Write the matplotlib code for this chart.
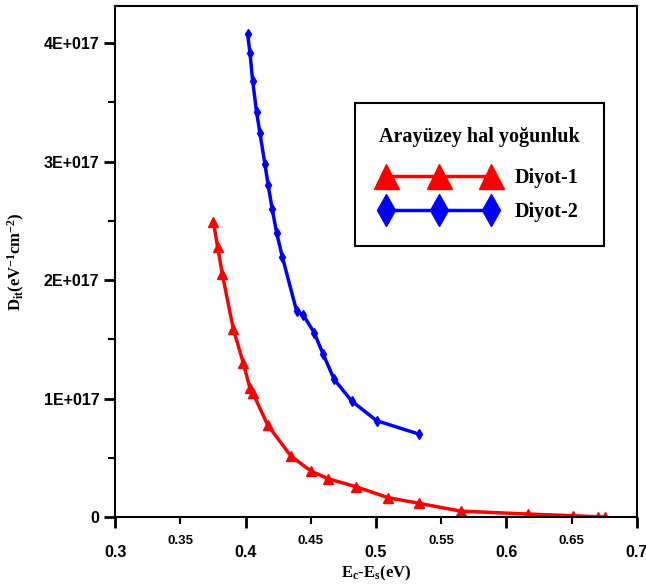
import matplotlib
matplotlib.use("Agg")
import matplotlib.pyplot as plt
from matplotlib.ticker import MultipleLocator, FixedLocator, FixedFormatter

# Diyot-1 (red triangles)
x1 = [0.3752, 0.3785, 0.3821, 0.3905, 0.3982, 0.4033, 0.4054, 0.4169, 0.4347,
      0.4501, 0.4633, 0.4846, 0.5094, 0.5329, 0.5649, 0.6167, 0.6512, 0.6704, 0.6756]
y1 = [2.49, 2.28, 2.05, 1.59, 1.30, 1.086, 1.05, 0.776, 0.515,
      0.388, 0.323, 0.256, 0.163, 0.116, 0.05, 0.025, 0.011, 0.002, 0.0]

# Diyot-2 (blue diamonds)
x2 = [0.4015, 0.4033, 0.4054, 0.4084, 0.4110, 0.4148, 0.4173, 0.4204, 0.4238,
      0.4281, 0.4391, 0.4442, 0.4526, 0.4595, 0.4679, 0.4813, 0.5005, 0.5329]
y2 = [4.076, 3.918, 3.679, 3.415, 3.238, 2.976, 2.799, 2.597, 2.397,
      2.197, 1.738, 1.705, 1.555, 1.373, 1.162, 0.979, 0.813, 0.700]

scale = 1e17
yticks = [0, 1e17, 2e17, 3e17, 4e17]
ylabels = ["0", "1E+017", "2E+017", "3E+017", "4E+017"]
xmajor = [0.3, 0.4, 0.5, 0.6, 0.7]
xminor = [0.35, 0.45, 0.55, 0.65]

plt.rcParams["mathtext.fontset"] = "custom"
plt.rcParams["mathtext.rm"] = "Liberation Serif:bold"
plt.rcParams["mathtext.it"] = "Liberation Serif:bold"
plt.rcParams["mathtext.bf"] = "Liberation Serif:bold"

fig = plt.figure(figsize=(6.46, 5.86), dpi=100)
ax = fig.add_axes([0.1785, 0.1177, 0.8071, 0.8726])

ax.plot(x1, [v * scale for v in y1], color="red", lw=2.5, marker="^", ms=7,
        label="Diyot-1")
ax.plot(x2, [v * scale for v in y2], color="blue", lw=2.5, marker="d", ms=5.5,
        label="Diyot-2")

ax.set_xlim(0.3, 0.7)
ax.set_ylim(0, 4.315e17)

ax.xaxis.set_major_locator(FixedLocator(xmajor))
ax.xaxis.set_major_formatter(FixedFormatter([f"{v:g}" for v in xmajor]))
ax.xaxis.set_minor_locator(FixedLocator(xminor))
ax.xaxis.set_minor_formatter(FixedFormatter([f"{v:g}" for v in xminor]))
ax.yaxis.set_major_locator(FixedLocator(yticks))
ax.yaxis.set_major_formatter(FixedFormatter(ylabels))
ax.yaxis.set_minor_locator(MultipleLocator(0.5e17))

ax.tick_params(which="major", direction="out", length=8, width=2)
ax.tick_params(which="minor", direction="out", length=5, width=1.5)
ax.tick_params(axis="x", which="major", pad=12)
ax.tick_params(axis="x", which="minor", pad=8)
for lab in ax.get_xticklabels() + ax.get_yticklabels():
    lab.set_fontfamily("Liberation Sans")
    lab.set_fontweight("bold")
    lab.set_fontsize(11.5)
for lab in ax.get_xticklabels(minor=True):
    lab.set_fontfamily("Liberation Sans")
    lab.set_fontweight("bold")
    lab.set_fontsize(9.5)

for sp in ax.spines.values():
    sp.set_linewidth(1.5)

ax.set_xlabel(r"E$_{\rm c}$-E$_{\rm s}$(eV)", fontfamily="Liberation Serif",
              fontweight="bold", fontsize=12, labelpad=3)
ax.set_ylabel(r"D$_{\rm it}$(eV$^{-1}$cm$^{-2}$)", fontfamily="Liberation Serif",
              fontweight="bold", fontsize=12, labelpad=12)

leg = ax.legend(title="Arayüzey hal yoğunluk", loc="upper left",
                bbox_to_anchor=(0.4597, 0.8097), borderaxespad=0, numpoints=3,
                handlelength=5.8, fancybox=False, edgecolor="black",
                framealpha=1, borderpad=1.2, labelspacing=0.7, handletextpad=0.9,
                prop={"family": "Liberation Serif", "weight": "bold", "size": 14.5})
leg.get_title().set_fontfamily("Liberation Serif")
leg.get_title().set_fontweight("bold")
leg.get_title().set_fontsize(14.5)
leg.get_frame().set_linewidth(1.5)
leg._legend_box.sep += 5  # a bit more room under the title
hs = leg.legend_handles
hs[0].set_markersize(18)
hs[1].set_markersize(16)

fig.savefig("out.png", dpi=100)
